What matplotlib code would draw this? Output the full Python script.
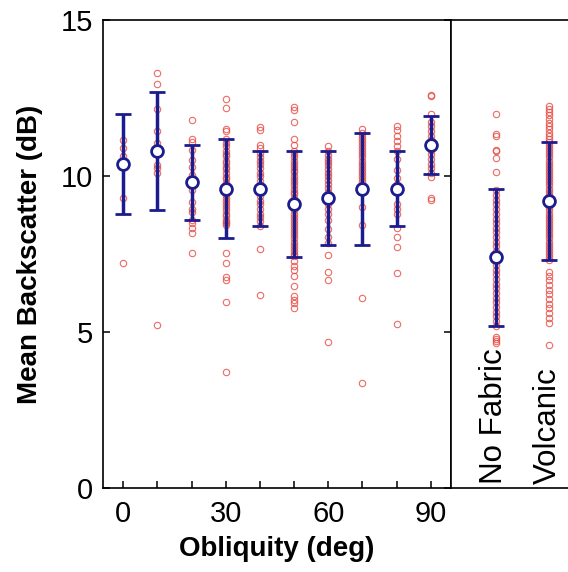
import matplotlib
matplotlib.use("Agg")
import matplotlib.pyplot as plt
from matplotlib.ticker import MultipleLocator

plt.rcParams["font.family"] = ["Liberation Sans", "DejaVu Sans"]

# obliquity groups (deg)
obliquity = [0, 10, 20, 30, 40, 50, 60, 70, 80, 90]

# individual backscatter values (dB) for each obliquity group
pts_0 = [11.15, 10.9, 10.65, 9.3, 7.2]
pts_10 = [13.3, 12.95, 12.17, 11.44, 11.05, 10.35, 10.25, 10.1, 5.22]
pts_20 = [11.8, 11.19, 11.1, 10.83, 10.51, 10.3, 10.03, 9.55, 9.18, 8.96,
          8.86, 8.6, 8.48, 8.32, 8.19, 7.52]
pts_30 = [12.49, 12.19, 11.5, 11.44, 11.2, 11.05, 10.98, 10.82, 10.7, 10.66,
          10.5, 10.41, 10.3, 10.22, 10.1, 9.97, 9.9, 9.78, 9.7, 9.55, 9.47,
          9.38, 9.3, 9.2, 9.12, 9.0, 8.92, 8.8, 8.73, 8.6, 8.54, 8.48, 8.43,
          7.54, 7.2, 6.77, 6.67, 5.95, 3.7]
pts_40 = [11.58, 11.47, 10.99, 10.92, 10.75, 10.6, 10.5, 10.38, 10.25, 10.1,
          10.0, 9.85, 9.7, 9.5, 9.35, 9.2, 9.1, 8.95, 8.8, 8.7, 8.55, 8.4,
          7.66, 6.19]
pts_50 = [12.23, 12.12, 11.74, 11.2, 10.99, 10.8, 10.7, 10.62, 10.5, 10.4,
          10.3, 10.2, 10.12, 10.0, 9.9, 9.8, 9.7, 9.6, 9.5, 9.42, 9.3, 9.2,
          9.1, 9.0, 8.9, 8.8, 8.7, 8.6, 8.5, 8.4, 8.3, 8.2, 8.1, 8.0, 7.9,
          7.8, 7.7, 7.6, 7.5, 7.42, 7.26, 7.1, 7.0, 6.78, 6.46, 6.14, 6.03,
          5.92, 5.76]
pts_60 = [10.96, 10.8, 10.68, 10.55, 10.45, 10.35, 10.22, 10.1, 10.0, 9.88,
          9.75, 9.62, 9.5, 9.4, 9.25, 9.1, 8.95, 8.8, 8.59, 8.3, 8.05, 7.85,
          7.47, 6.93, 6.67, 4.66]
pts_70 = [11.53, 11.4, 11.3, 11.2, 11.1, 11.0, 10.9, 10.8, 10.7, 10.6,
          10.5, 10.4, 10.3, 10.2, 10.1, 10.0, 9.9, 9.8, 9.02, 8.43, 6.08, 3.35]
pts_80 = [11.6, 11.47, 11.3, 11.14, 10.98, 10.8, 10.55, 10.2, 9.95, 9.75,
          9.1, 8.95, 8.78, 8.32, 8.06, 7.73, 6.88, 5.26]
pts_90 = [12.62, 12.57, 12.01, 11.74, 11.6, 11.45, 11.3, 11.15, 11.0, 10.85,
          10.7, 10.55, 10.4, 10.25, 10.1, 9.97, 9.3, 9.23]
group_pts = [pts_0, pts_10, pts_20, pts_30, pts_40, pts_50, pts_60, pts_70,
             pts_80, pts_90]

# group mean and standard deviation
obl_mean = [10.4, 10.8, 9.8, 9.6, 9.6, 9.1, 9.3, 9.6, 9.6, 11.0]
obl_sd = [1.6, 1.9, 1.2, 1.6, 1.2, 1.7, 1.5, 1.8, 1.2, 0.93]

# right panel categories
cat_labels = ["No Fabric", "Volcanic"]
pts_nofabric = [12.0, 11.37, 11.3, 10.83, 10.8, 10.57, 10.14, 9.55, 9.4,
                9.25, 9.1, 8.95, 8.8, 8.62, 8.5, 8.35, 8.2, 8.05, 7.9, 7.75,
                7.6, 7.45, 7.3, 7.15, 7.0, 6.85, 6.7, 6.55, 6.4, 6.25, 6.1,
                5.95, 5.8, 5.65, 5.5, 5.35, 5.2, 4.85, 4.78, 4.7, 4.64]
pts_volcanic = [12.25, 12.15, 12.05, 11.95, 11.85, 11.7, 11.6, 11.5, 11.4,
                11.3, 11.2, 11.1, 11.0, 10.9, 10.8, 10.7, 10.6, 10.5, 10.4,
                10.3, 10.2, 10.1, 10.0, 9.9, 9.8, 9.7, 9.6, 9.5, 9.4, 9.3,
                9.2, 9.1, 9.0, 8.9, 8.8, 8.7, 8.6, 8.5, 8.4, 8.3, 8.2, 8.1,
                8.0, 7.9, 7.8, 7.7, 7.6, 7.5, 7.4, 7.3, 6.93, 6.8, 6.65, 6.5,
                6.35, 6.2, 6.05, 5.9, 5.75, 5.6, 5.45, 5.28, 4.58]
cat_pts = [pts_nofabric, pts_volcanic]
cat_mean = [7.4, 9.2]
cat_sd = [2.2, 1.9]

RED = "#e8463e"
NAVY = "#1c1c8e"


def draw_group(ax, x, pts, mean, sd):
    ax.plot([x] * len(pts), pts, "o", ms=4.6, mfc="none", mec=RED, mew=0.8,
            alpha=0.8, zorder=2)
    ax.errorbar(x, mean, yerr=sd, fmt="o", ms=8.5, mfc="white", mec=NAVY,
                mew=2.0, color=NAVY, ecolor=NAVY, elinewidth=2.5,
                capsize=6, capthick=2.5, zorder=3)


fig = plt.figure(figsize=(5.68, 5.72), dpi=100)
ax1 = fig.add_axes([0.1813, 0.1477, 0.6127, 0.8165])
ax2 = fig.add_axes([0.794, 0.1477, 0.22, 0.8165])

for x, pts, m, s in zip(obliquity, group_pts, obl_mean, obl_sd):
    draw_group(ax1, x, pts, m, s)

ax1.set_xlim(-5.9, 95.9)
ax1.set_ylim(0, 15)
ax1.xaxis.set_major_locator(MultipleLocator(30))
ax1.xaxis.set_minor_locator(MultipleLocator(10))
ax1.yaxis.set_major_locator(MultipleLocator(5))
ax1.tick_params(which="both", direction="in", length=5, width=1.1,
                labelsize=21, right=True, top=False)
ax1.tick_params(axis="x", pad=9)
ax1.tick_params(axis="y", pad=7)
ax1.set_xlabel("Obliquity (deg)", fontsize=20, fontweight="bold", labelpad=6)
ax1.set_ylabel("Mean Backscatter (dB)", fontsize=20, fontweight="bold",
               labelpad=13)

for i, (pts, m, s) in enumerate(zip(cat_pts, cat_mean, cat_sd)):
    draw_group(ax2, i + 1, pts, m, s)
    ax2.text(i + 1 - 0.03, 0.1, cat_labels[i], rotation=90, ha="center",
             va="bottom", fontsize=22.5)

ax2.set_xlim(0.157, 2.5)
ax2.set_ylim(0, 15)
ax2.set_xticks([])
ax2.set_yticks([])
ax2.spines["right"].set_visible(False)

for ax in (ax1, ax2):
    for sp in ax.spines.values():
        sp.set_linewidth(1.2)

fig.savefig("out.png", dpi=100)
